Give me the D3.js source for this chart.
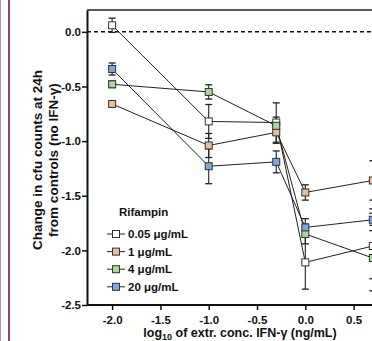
<!DOCTYPE html>
<html>
<head>
<meta charset="utf-8">
<script src="https://cdn.jsdelivr.net/npm/d3@7"></script>
<style>
  body { margin: 0; background: #fff; }
  svg { display: block; font-family: "Liberation Sans", Arial, sans-serif; font-weight: bold; }
</style>
</head>
<body>
<div id="chart"></div>
<script>
const width = 372;
const height = 341;

// x values: log10 of IFN-gamma concentration
const xVals = [-2.0, -1.0, -0.301, 0.0, 0.699];

const seriesNames = ["0.05 μg/mL", "1 μg/mL", "4 μg/mL", "20 μg/mL"];
const seriesColors = ["#ffffff", "#e6bf9e", "#aad89c", "#7fa6dc"];

const white = [0.06, -0.82, -0.83, -2.11, -1.96];
const tan = [-0.66, -1.04, -0.92, -1.47, -1.36];
const green = [-0.48, -0.55, -0.86, -1.85, -2.07];
const blue = [-0.34, -1.23, -1.19, -1.79, -1.72];

const whiteErr = [0.065, 0.155, 0.18, 0.245, 0.3];
const tanErr = [0.02, 0.11, 0.1, 0.07, 0.18];
const greenErr = [0.03, 0.065, 0.08, 0.09, 0.3];
const blueErr = [0.055, 0.16, 0.1, 0.08, 0.1];

const xTicks = [-2.0, -1.5, -1.0, -0.5, 0.0, 0.5];
const yTicks = [0.0, -0.5, -1.0, -1.5, -2.0, -2.5];

const series = [
  { name: seriesNames[0], color: seriesColors[0], vals: white, err: whiteErr },
  { name: seriesNames[1], color: seriesColors[1], vals: tan, err: tanErr },
  { name: seriesNames[2], color: seriesColors[2], vals: green, err: greenErr },
  { name: seriesNames[3], color: seriesColors[3], vals: blue, err: blueErr }
];

const svg = d3.select("#chart")
  .append("svg")
  .attr("width", width)
  .attr("height", height);

// page border lines at the left
svg.append("line").attr("x1", 0.5).attr("x2", 0.5).attr("y1", 0).attr("y2", height)
  .attr("stroke", "#c98db2").attr("stroke-width", 1);
svg.append("line").attr("x1", 9).attr("x2", 9).attr("y1", 0).attr("y2", height)
  .attr("stroke", "#9c4174").attr("stroke-width", 2);

const x = d3.scaleLinear().domain([-2.26, 1.0]).range([87, 87 + 3.26 * 96.6]);
const y = d3.scaleLinear().domain([0.2, -2.5]).range([10, 305]);

// top frame
svg.append("line").attr("x1", 87).attr("x2", width).attr("y1", 10).attr("y2", 10)
  .attr("stroke", "#222").attr("stroke-width", 1.5);

// zero reference
svg.append("line").attr("x1", 87).attr("x2", width).attr("y1", y(0)).attr("y2", y(0))
  .attr("stroke", "#111").attr("stroke-width", 1.5).attr("stroke-dasharray", "4,3");

const xAxis = svg.append("g")
  .attr("transform", `translate(0,${y(-2.5)})`)
  .call(d3.axisBottom(x).tickValues(xTicks).tickFormat(d3.format(".1f")).tickSize(5).tickSizeOuter(0));
const yAxis = svg.append("g")
  .attr("transform", `translate(${x(-2.26)},0)`)
  .call(d3.axisLeft(y).tickValues(yTicks).tickFormat(d3.format(".1f")).tickSize(5).tickSizeOuter(0));

[xAxis, yAxis].forEach(g => {
  g.select(".domain").attr("stroke", "#111").attr("stroke-width", 2);
  g.selectAll(".tick line").attr("stroke", "#111").attr("stroke-width", 1.5);
  g.selectAll(".tick text").attr("fill", "#111")
    .style("font-size", "11.5px").style("font-family", "Liberation Sans, Arial, sans-serif").style("font-weight", "bold");
});
xAxis.select(".domain").attr("d", `M${x(-2.26)},0H${width}`);
xAxis.selectAll(".tick text").attr("dy", "0.95em");
yAxis.selectAll(".tick text").attr("x", -6).text(d => d3.format(".1f")(d).replace("−", "-"));
xAxis.selectAll(".tick text").text(d => d3.format(".1f")(d).replace("−", "-"));

const plot = svg.append("g");
const line = d3.line().x((d, i) => x(xVals[i])).y(d => y(d));

series.forEach(s => {
  plot.append("path").datum(s.vals)
    .attr("d", line).attr("fill", "none").attr("stroke", "#222").attr("stroke-width", 1);
});

series.forEach(s => {
  const g = plot.append("g");
  s.vals.forEach((v, i) => {
    const cx = x(xVals[i]);
    const top = y(v + s.err[i]), bot = y(v - s.err[i]);
    g.append("line").attr("x1", cx).attr("x2", cx).attr("y1", top).attr("y2", bot)
      .attr("stroke", "#222").attr("stroke-width", 1.1);
    [top, bot].forEach(yy => {
      g.append("line").attr("x1", cx - 3.5).attr("x2", cx + 3.5).attr("y1", yy).attr("y2", yy)
        .attr("stroke", "#222").attr("stroke-width", 1.3);
    });
  });
});

series.forEach(s => {
  plot.selectAll(null).data(s.vals).enter().append("rect")
    .attr("x", (d, i) => x(xVals[i]) - 3.5)
    .attr("y", d => y(d) - 3.5)
    .attr("width", 7).attr("height", 7)
    .attr("fill", s.color).attr("stroke", "#333").attr("stroke-width", 1);
});

// legend
const legend = svg.append("g");
legend.append("text").attr("x", 119).attr("y", 216).text("Rifampin")
  .attr("font-size", 11.5).attr("fill", "#111");
series.forEach((s, i) => {
  const ly = 234 + i * 17.6;
  legend.append("line").attr("x1", 107).attr("x2", 125).attr("y1", ly).attr("y2", ly)
    .attr("stroke", "#222").attr("stroke-width", 1);
  legend.append("rect").attr("x", 112.5).attr("y", ly - 3.5).attr("width", 7).attr("height", 7)
    .attr("fill", s.color).attr("stroke", "#333").attr("stroke-width", 1);
  legend.append("text").attr("x", 128).attr("y", ly + 4).text(s.name)
    .attr("font-size", 11.5).attr("fill", "#111");
});

// axis titles
const yTitle = svg.append("text")
  .attr("transform", "translate(42,160) rotate(-90)")
  .attr("text-anchor", "middle").attr("font-size", 13.5).attr("fill", "#111");
yTitle.append("tspan").attr("x", 0).attr("dy", 0).text("Change in cfu counts at 24h");
yTitle.append("tspan").attr("x", 0).attr("dy", 16).text("from controls (no IFN-γ)");

const xTitle = svg.append("text")
  .attr("x", 240).attr("y", 337)
  .attr("text-anchor", "middle").attr("font-size", 12.5).attr("fill", "#111");
xTitle.append("tspan").text("log");
xTitle.append("tspan").attr("font-size", 9).attr("dy", 3).text("10");
xTitle.append("tspan").attr("dy", -3).text(" of extr. conc. IFN-γ (ng/mL)");
</script>
</body>
</html>
